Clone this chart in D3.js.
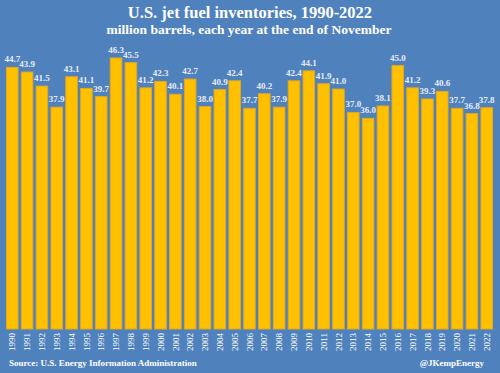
<!DOCTYPE html>
<html>
<head>
<meta charset="utf-8">
<script src="https://cdn.jsdelivr.net/npm/d3@7"></script>
<style>
  html, body { margin: 0; padding: 0; background: #4f81bd; }
  svg { display: block; }
  text { font-family: "Liberation Serif", "DejaVu Serif", serif; fill: #fff; }
</style>
</head>
<body>
<svg id="chart" width="500" height="373"></svg>
<script>
const years = ['1990', '1991', '1992', '1993', '1994', '1995', '1996', '1997', '1998', '1999',
  '2000', '2001', '2002', '2003', '2004', '2005', '2006', '2007', '2008', '2009',
  '2010', '2011', '2012', '2013', '2014', '2015', '2016', '2017', '2018', '2019',
  '2020', '2021', '2022'];
const inventories = [44.7, 43.9, 41.5, 37.9, 43.1, 41.1, 39.7, 46.3, 45.5, 41.2,
  42.3, 40.1, 42.7, 38.0, 40.9, 42.4, 37.7, 40.2, 37.9, 42.4,
  44.1, 41.9, 41.0, 37.0, 36.0, 38.1, 45.0, 41.2, 39.3, 40.6,
  37.7, 36.8, 37.8];

const titleText = 'U.S. jet fuel inventories, 1990-2022';
const subtitleText = 'million barrels, each year at the end of  November';
const sourceText = 'Source: U.S. Energy Information Administration';
const handleText = '@JKempEnergy';

const width = 500, height = 373;
const svg = d3.select('#chart');

svg.append('rect')
  .attr('width', width)
  .attr('height', height)
  .attr('fill', '#4f81bd');

const x = d3.scaleBand()
  .domain(years)
  .range([5, 494])
  .paddingInner(0.22)
  .paddingOuter(0.1);

const y = d3.scaleLinear()
  .domain([0, 46.3])
  .range([329, 58]);

const data = years.map((yr, i) => ({ year: yr, value: inventories[i] }));

// bars
svg.append('g')
  .selectAll('rect')
  .data(data)
  .enter()
  .append('rect')
  .attr('x', d => x(d.year))
  .attr('y', d => y(d.value))
  .attr('width', x.bandwidth())
  .attr('height', d => y(0) - y(d.value))
  .attr('fill', '#ffc000')
  .attr('stroke', '#e3a81c')
  .attr('stroke-width', 1);

// value labels
svg.append('g')
  .selectAll('text')
  .data(data)
  .enter()
  .append('text')
  .attr('x', d => x(d.year) + x.bandwidth() / 2)
  .attr('y', d => y(d.value) - 5)
  .attr('text-anchor', 'middle')
  .attr('font-size', 9)
  .attr('font-weight', 'bold')
  .style('fill', '#e6ecf5')
  .text(d => d.value.toFixed(1));

// year axis, rotated labels
const xAxis = svg.append('g')
  .attr('transform', 'translate(0,' + y(0) + ')')
  .call(d3.axisBottom(x).tickSize(0).tickPadding(0));
xAxis.select('.domain').remove();
xAxis.selectAll('text')
  .attr('transform', 'rotate(-90)')
  .attr('x', -4)
  .attr('y', 0)
  .attr('dy', '0.35em')
  .attr('text-anchor', 'end')
  .attr('font-size', 9)
  .attr('font-family', '"Liberation Serif", serif')
  .style('fill', '#fff');

// titles
svg.append('text')
  .attr('x', 250)
  .attr('y', 18)
  .attr('text-anchor', 'middle')
  .attr('font-size', 16.5)
  .attr('font-weight', 'bold')
  .text(titleText);

svg.append('text')
  .attr('x', 249)
  .attr('y', 34)
  .attr('text-anchor', 'middle')
  .attr('font-size', 13.5)
  .attr('font-weight', 'bold')
  .text(subtitleText);

svg.append('text')
  .attr('x', 9)
  .attr('y', 366)
  .attr('font-size', 9)
  .attr('font-weight', 'bold')
  .text(sourceText);

svg.append('text')
  .attr('x', 484)
  .attr('y', 366)
  .attr('text-anchor', 'end')
  .attr('font-size', 9)
  .attr('font-weight', 'bold')
  .text(handleText);
</script>
</body>
</html>
